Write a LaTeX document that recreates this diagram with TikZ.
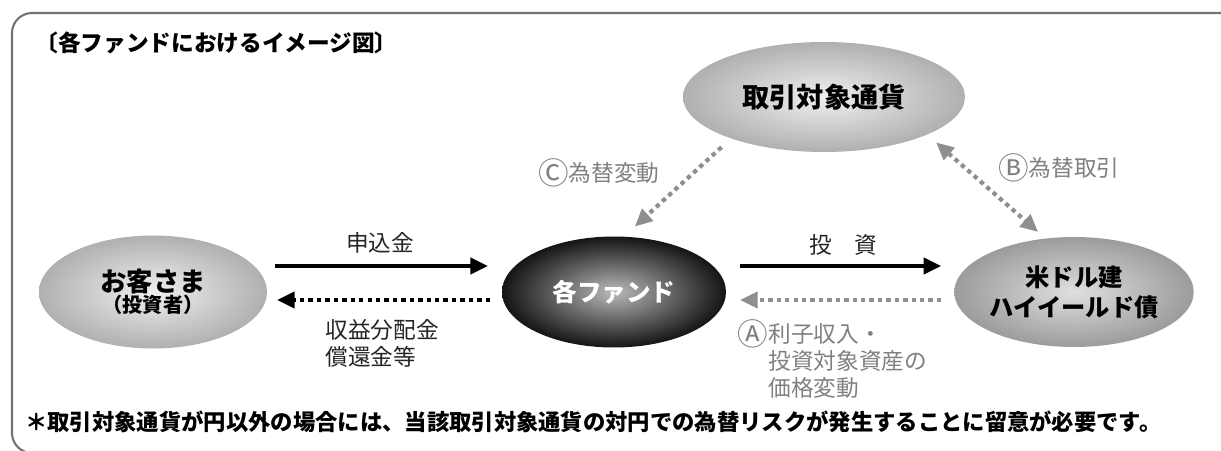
\documentclass[tikz,border=0pt]{standalone}
\usepackage{fontspec}
\usepackage{graphicx}
\setmainfont{Noto Sans CJK JP}
\usetikzlibrary{shapes.geometric, arrows.meta}

\definecolor{framegray}{gray}{0.45}
\definecolor{arrowgray}{gray}{0.56}
\definecolor{labelgray}{gray}{0.5}

\newcommand{\circled}[1]{\raisebox{-0.12em}{\scalebox{1.35}{#1}}}

\tikzset{
  blob/.style={ellipse, inner sep=0pt, outer sep=0pt},
  lightblob/.style={blob, inner color=gray!12, outer color=gray!62},
  midblob/.style={blob, inner color=gray!25, outer color=gray!78},
  darkblob/.style={blob, inner color=gray!55, outer color=black!92},
  flow/.style={line width=2.4pt, -{Triangle[length=10pt,width=9pt]}},
  dotflow/.style={flow, dash pattern=on 2.5pt off 2.3pt},
  lbl/.style={font=\fontsize{12.9}{15.3}\selectfont, text=black!85, inner sep=0pt},
}

\begin{document}
\begin{tikzpicture}
        \useasboundingbox (0,0) rectangle (24.42,9);
        \clip (0,0) rectangle (24.42,9);

        % Draw the frame round the figure
        \draw[framegray, line width=1.2pt, rounded corners=0.4cm] (0.24,-0.06) rectangle (25,8.74);

        % Title and footnote
        \node[anchor=west, inner sep=0pt, font=\bfseries\fontsize{12.9}{15}\selectfont] (title) at (0.70,8.14) {〔各ファンドにおけるイメージ図〕};
        \node[anchor=west, inner sep=0pt, font=\bfseries\fontsize{12.7}{15}\selectfont] (note) at (0.50,0.56) {＊取引対象通貨が円以外の場合には、当該取引対象通貨の対円での為替リスクが発生することに留意が必要です。};

        % Draw the ellipses
        \node[lightblob, minimum width=5.64cm, minimum height=2.2cm, font=\bfseries\fontsize{15.5}{18}\selectfont] (cur) at (16.48,7.06) {取引対象通貨};
        \node[lightblob, minimum width=4.56cm, minimum height=2.26cm, align=center, font=\bfseries] (cust) at (3.06,3.16) {\fontsize{15}{16}\selectfont お客さま\\ \fontsize{11.5}{13}\selectfont （投資者）};
        \node[darkblob, minimum width=4.48cm, minimum height=2.22cm, text=white, font=\bfseries\fontsize{14}{17}\selectfont] (fund) at (12.28,3.16) {各ファンド};
        \node[midblob, minimum width=4.56cm, minimum height=2.2cm, align=center, font=\bfseries\fontsize{13.8}{17}\selectfont] (usd) at (21.48,3.16) {米ドル建\\ハイイールド債};

        % Money flows
        \draw[flow, shorten <=0.16cm, shorten >=0.28cm] ([yshift=0.52cm]cust.east) -- ([yshift=0.52cm]fund.west);
        \draw[dotflow, shorten <=0.24cm, shorten >=0.2cm] ([yshift=-0.16cm]fund.west) -- ([yshift=-0.16cm]cust.east);
        \draw[flow, shorten <=0.28cm, shorten >=0.26cm] ([yshift=0.52cm]fund.east) -- ([yshift=0.52cm]usd.west);
        \draw[dotflow, arrowgray, shorten <=0.26cm, shorten >=0.28cm] ([yshift=-0.16cm]usd.west) -- ([yshift=-0.16cm]fund.east);

        % Currency flows
        \draw[dotflow, arrowgray, shorten <=0.26cm, shorten >=0.3cm] (cur.204) -- (fund.80);
        \draw[dotflow, arrowgray, {Triangle[length=10pt,width=9pt]}-{Triangle[length=10pt,width=9pt]}, shorten <=0.24cm, shorten >=0.2cm] (cur.340) -- (usd.118);

        % Label the flows
        \node[lbl] (subs) at (7.6,4.14) {申込金};
        \node[lbl, anchor=west, align=left] (dist) at (6.5,2.13) {収益分配金\\償還金等};
        \node[lbl] (inv) at (16.86,4.1) {投　資};
        \node[lbl, text=labelgray, anchor=west, align=left] (inc) at (15.36,1.82) {\llap{\circled{Ⓐ}}利子収入・\\投資対象資産の\\価格変動};
        \node[lbl, text=labelgray, anchor=east] (fx) at (13.2,5.54) {\circled{Ⓒ}為替変動};
        \node[lbl, text=labelgray, anchor=west] (swap) at (19.96,5.64) {\circled{Ⓑ}為替取引};
    \end{tikzpicture}
\end{document}
